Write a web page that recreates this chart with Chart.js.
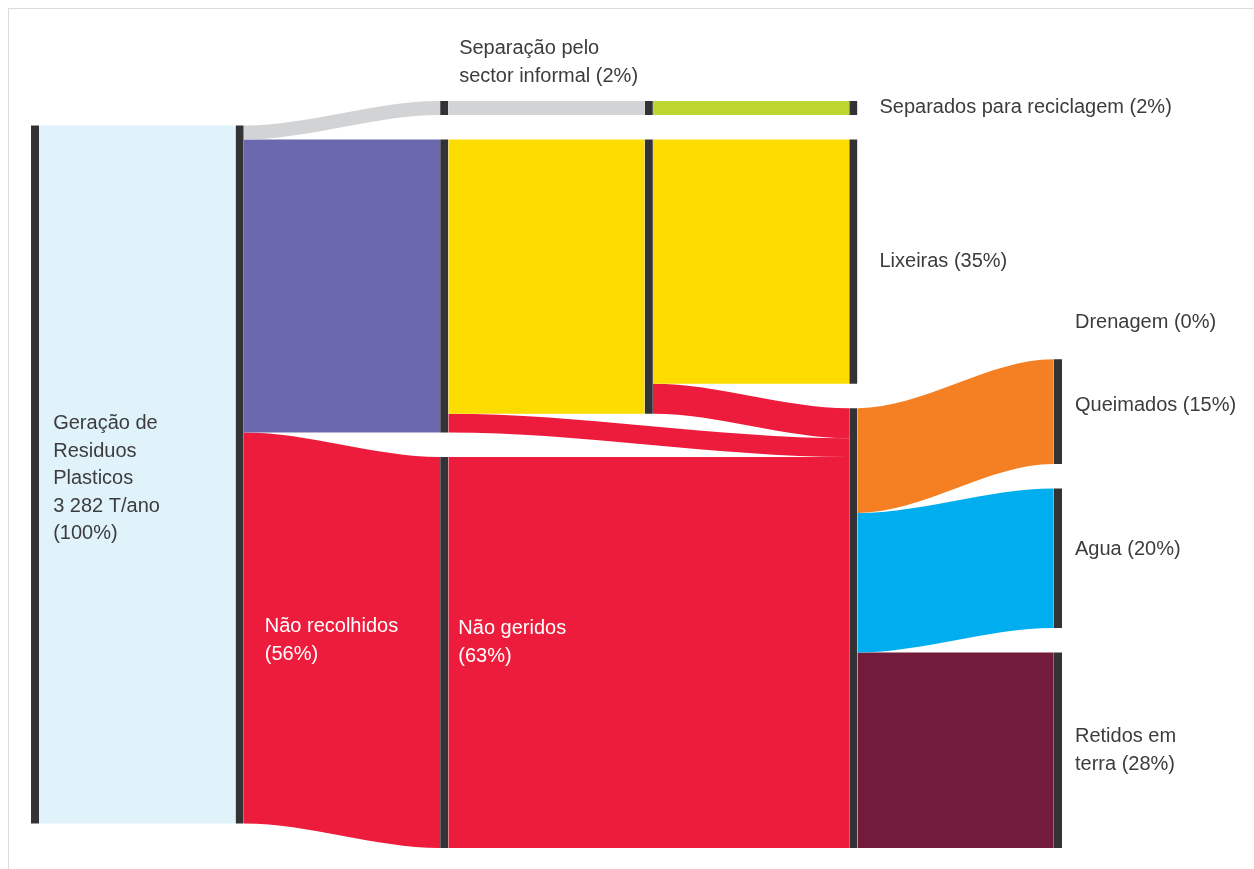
<!DOCTYPE html>
<html>
<head>
<meta charset="utf-8">
<script src="https://cdn.jsdelivr.net/npm/chart.js@4/dist/chart.umd.min.js"></script>
<style>
html,body{margin:0;padding:0;background:#fff;overflow:hidden;}
#wrap{position:relative;width:1254px;height:869px;overflow:hidden;}
#frame{position:absolute;left:8px;top:8px;width:1400px;height:1000px;border:1px solid #dcdcdc;}
#c{position:absolute;left:0;top:0;}
</style>
</head>
<body>
<div id="wrap"><div id="frame"></div><canvas id="c" width="1254" height="869"></canvas></div>
<script>
// ---------- DATA ----------
const totalTonnes = 3282;
const nodeIds = ['geracao','recolha','separacao','recolhidos','naoRecolhidos','separacao2','geridos','separados','lixeiras','naoGeridos','drenagem','queimados','agua','retidos'];
const nodeColumns = [0,1,2,2,2,3,3,4,4,4,5,5,5,5];

const linkSources = ['geracao','recolha','recolha','recolha','separacao','recolhidos','recolhidos','separacao2','geridos','geridos','naoRecolhidos','naoGeridos','naoGeridos','naoGeridos','naoGeridos'];
const linkTargets = ['recolha','separacao','recolhidos','naoRecolhidos','separacao2','geridos','naoGeridos','separados','lixeiras','naoGeridos','naoGeridos','drenagem','queimados','agua','retidos'];
const linkValues  = [100, 2, 42, 56, 2, 39.3, 2.7, 2, 35, 4.3, 56, 0, 15, 20, 28];

// label texts ({p} = percentage, {t} = tonnes)
const labelNodes = ['geracao','separacao','separados','lixeiras','drenagem','queimados','agua','retidos','naoRecolhidos','naoGeridos'];
const labelTexts = [
  'Geração de\nResiduos\nPlasticos\n{t} T/ano\n({p}%)',
  'Separação pelo\nsector informal ({p}%)',
  'Separados para reciclagem ({p}%)',
  'Lixeiras ({p}%)',
  'Drenagem ({p}%)',
  'Queimados ({p}%)',
  'Agua ({p}%)',
  'Retidos em\nterra ({p}%)',
  'Não recolhidos\n({p}%)',
  'Não geridos\n({p}%)'
];

// ---------- STYLE ----------
const linkColors = ['#e0f2fa','#d1d3d4','#6c68ad','#ed1c3c','#d1d3d4','#fddc00','#ed1c3c','#bed630','#fddc00','#ed1c3c','#ed1c3c','#f58024','#f58024','#00aeef','#721b3a'];
const NODE_COLOR = '#333335';
const TEXT_DARK = '#3c3c3e';
const GAP = 3.5;
const NODE_W = 0.04;
// label placement: mode, dx (px), dy (px), colour
const labelPlace = {
  geracao:       {mode:'nodeRight', dx:14, dy:4, color:TEXT_DARK},
  separacao:     {mode:'nodeAbove', dx:19, dy:-25, color:TEXT_DARK},
  separados:     {mode:'nodeRight', dx:22, dy:0, color:TEXT_DARK},
  lixeiras:      {mode:'nodeRight', dx:22, dy:0, color:TEXT_DARK},
  drenagem:      {mode:'nodeRight', dx:13, dy:-12, color:TEXT_DARK},
  queimados:     {mode:'nodeRight', dx:13, dy:-6, color:TEXT_DARK},
  agua:          {mode:'nodeRight', dx:13, dy:-9, color:TEXT_DARK},
  retidos:       {mode:'nodeRight', dx:13, dy:0, color:TEXT_DARK},
  naoRecolhidos: {mode:'inLink', dx:21, dy:0, color:'#ffffff'},
  naoGeridos:    {mode:'inLink', dx:10, dy:-10, color:'#ffffff'}
};

// ---------- LAYOUT (in value units) ----------
const idx = Object.fromEntries(nodeIds.map((id,i)=>[id,i]));
const nodes = nodeIds.map((id,i)=>({id, i, col:nodeColumns[i], inL:[], outL:[], y0:0, y1:0}));
const links = linkValues.map((v,i)=>({s:nodes[idx[linkSources[i]]], t:nodes[idx[linkTargets[i]]], v, color:linkColors[i]}));
links.forEach(l=>{l.s.outL.push(l); l.t.inL.push(l);});
const sum = a => a.reduce((s,l)=>s+l.v,0);
nodes.forEach(n=>{n.value = Math.max(sum(n.inL), sum(n.outL));});
const nCols = Math.max(...nodeColumns)+1;
const cols = [];
for (let c=0;c<nCols;c++) cols.push(nodes.filter(n=>n.col===c));
const colTotal = col => col.reduce((s,n)=>s+n.value,0) + (col.length-1)*GAP;
const EXTENT = Math.max(...cols.map(colTotal));
const grandTotal = cols[0].reduce((s,n)=>s+n.value,0);

function resolve(col){
  let y = 0;
  col.forEach(n=>{ if (n.y0 < y) n.y0 = y; n.y1 = n.y0 + n.value; y = n.y1 + GAP; });
  let bottom = EXTENT;
  for (let k=col.length-1;k>=0;k--){
    const n = col[k];
    if (n.y1 > bottom){ n.y0 -= (n.y1-bottom); n.y1 = bottom; }
    bottom = n.y0 - GAP;
  }
}
function setOut(n){
  n.outL.sort((a,b)=>a.t.i-b.t.i);
  let o = n.y0;
  n.outL.forEach(l=>{ l.sy0 = o; o += l.v; });
}
// first column centred
{
  let y = (EXTENT - colTotal(cols[0]))/2;
  cols[0].forEach(n=>{ n.y0=y; n.y1=y+n.value; y=n.y1+GAP; });
  cols[0].forEach(setOut);
}
for (let c=1;c<nCols;c++){
  cols[c].forEach(n=>{
    n.inL.sort((a,b)=>a.sy0-b.sy0);
    let o=0; n.inL.forEach(l=>{ l.off=o; o+=l.v; });
    const main = n.inL.reduce((a,b)=> b.v > a.v ? b : a);
    n.y0 = main.sy0 - main.off; n.y1 = n.y0 + n.value;
  });
  resolve(cols[c]);
  cols[c].forEach(n=>{ n.inL.forEach(l=>{ l.ty0 = n.y0 + l.off; }); });
  cols[c].forEach(setOut);
}

// ---------- DATASETS ----------
const datasets = [];
const base = {borderColor:'rgba(0,0,0,0)', borderWidth:0, pointRadius:0, pointHoverRadius:0, cubicInterpolationMode:'monotone'};
links.forEach(l=>{
  if (l.v <= 0) return;
  const x0 = l.s.col + NODE_W, x1 = l.t.col, e = 0.002;
  const edge = off => [{x:x0,y:l.sy0+off},{x:x0+e,y:l.sy0+off},{x:x1-e,y:l.ty0+off},{x:x1,y:l.ty0+off}];
  datasets.push(Object.assign({}, base, {data:edge(0), fill:'+1', backgroundColor:l.color, order:1}));
  datasets.push(Object.assign({}, base, {data:edge(l.v), fill:false, order:1}));
});
nodes.forEach(n=>{
  if (n.value <= 0) return;
  const xa = n.col, xb = n.col + NODE_W;
  datasets.push(Object.assign({}, base, {data:[{x:xa,y:n.y0},{x:xb,y:n.y0}], fill:'+1', backgroundColor:NODE_COLOR, order:0}));
  datasets.push(Object.assign({}, base, {data:[{x:xa,y:n.y1},{x:xb,y:n.y1}], fill:false, order:0}));
});

// ---------- LABELS ----------
const LINE_H = 27.5;
const labelPlugin = {
  id:'sankeyLabels',
  afterDatasetsDraw(chart){
    const ctx = chart.ctx, xs = chart.scales.x, ys = chart.scales.y;
    ctx.save();
    ctx.font = '20px "Liberation Sans", Arial, Helvetica, sans-serif';
    ctx.textBaseline = 'middle';
    ctx.textAlign = 'left';
    labelNodes.forEach((id,k)=>{
      const n = nodes[idx[id]];
      const pct = Math.round(n.value/grandTotal*100);
      const tStr = String(totalTonnes).replace(/\B(?=(\d{3})+(?!\d))/g, ' ');
      const txt = labelTexts[k].replace('{p}', pct).replace('{t}', tStr);
      const lines = txt.split('\n');
      const P = labelPlace[id];
      let x, yc;
      if (P.mode === 'nodeRight'){
        x = xs.getPixelForValue(n.col + NODE_W) + P.dx;
        yc = ys.getPixelForValue((n.y0+n.y1)/2) + P.dy;
      } else if (P.mode === 'nodeAbove'){
        x = xs.getPixelForValue(n.col) + P.dx;
        const last = ys.getPixelForValue(n.y0) + P.dy;
        yc = last - (lines.length-1)*LINE_H/2;
      } else {
        const l = n.inL.reduce((a,b)=> b.v > a.v ? b : a);
        x = xs.getPixelForValue(l.s.col + NODE_W) + P.dx;
        yc = (ys.getPixelForValue(l.sy0 + l.v/2) + ys.getPixelForValue(l.ty0 + l.v/2))/2 + P.dy;
      }
      ctx.fillStyle = P.color;
      const y0 = yc - (lines.length-1)*LINE_H/2;
      lines.forEach((ln,j)=> ctx.fillText(ln, x, y0 + j*LINE_H));
    });
    ctx.restore();
  }
};

new Chart(document.getElementById('c'), {
  type:'line',
  data:{datasets},
  options:{
    responsive:false,
    animation:false,
    events:[],
    layout:{padding:{left:31, right:192, top:101, bottom:21}},
    plugins:{legend:{display:false}, tooltip:{enabled:false}, filler:{propagate:false}},
    scales:{
      x:{type:'linear', min:0, max:nCols-1+NODE_W, display:false},
      y:{type:'linear', min:0, max:EXTENT, reverse:true, display:false}
    }
  },
  plugins:[labelPlugin]
});
</script>
</body>
</html>
